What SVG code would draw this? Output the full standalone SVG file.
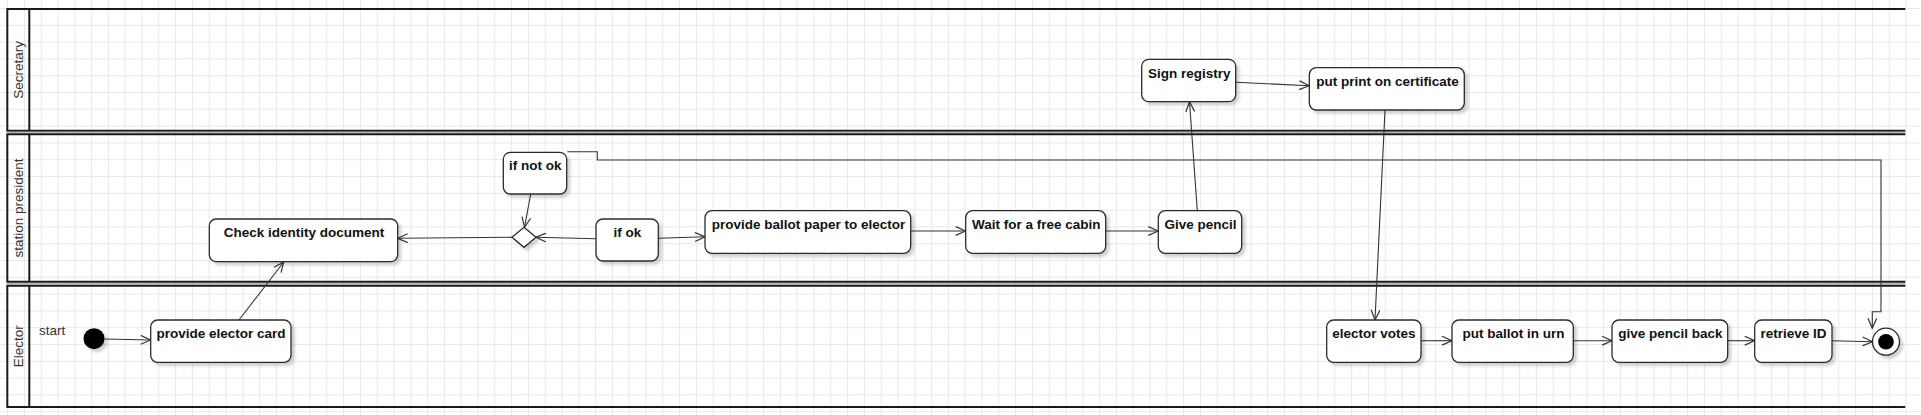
<svg xmlns="http://www.w3.org/2000/svg" width="1921" height="415" viewBox="0 0 1921 415">
  <defs>
    <pattern id="grid" x="-0.8" y="0.1" width="16.8" height="16.8" patternUnits="userSpaceOnUse">
      <path d="M0 8.4 H16.8 M8.4 0 V16.8" fill="none" stroke="#e8e8e8" stroke-width="1"/>
    </pattern>
    <filter id="shadow" x="-20%" y="-20%" width="140%" height="160%">
      <feDropShadow dx="3" dy="3" stdDeviation="1.6" flood-color="#000" flood-opacity="0.18"/>
    </filter>
    <marker id="open" viewBox="0 0 12 10" refX="11" refY="5" markerWidth="12" markerHeight="10" markerUnits="userSpaceOnUse" orient="auto">
      <path d="M1 0.6 L11 5 L1 9.4" fill="none" stroke="#333" stroke-width="1.2"/>
    </marker>
    <style>
      .lane { fill: none; stroke: #1a1a1a; stroke-width: 2; }
      .gap { fill: none; stroke: #b8b8b8; stroke-width: 1.6; }
      .lanelabel { font-family: "Liberation Sans", Arial, sans-serif; font-size: 13.5px; fill: #333; text-anchor: middle; }
      .node rect { fill: #fff; stroke: #2b2b2b; stroke-width: 1.3; filter: url(#shadow); }
      .node text { font-family: "Liberation Sans", Arial, sans-serif; font-size: 13.5px; font-weight: bold; fill: #111; text-anchor: middle; }
      .conn { fill: none; stroke: #333; stroke-width: 1.1; marker-end: url(#open); }
      .label { font-family: "Liberation Sans", Arial, sans-serif; font-size: 13.5px; font-weight: normal; fill: #333; text-anchor: start; }
    </style>
  </defs>

  <rect x="0" y="0" width="1921" height="415" fill="#fff"/>
  <rect x="0" y="0" width="1921" height="415" fill="url(#grid)"/>

  <g id="lanes">
    <g id="lane-secretary">
      <path class="lane" d="M1905.3 9 H7.3 V130.7 H1905.3 M29.3 9 V130.7"/>
      <text class="lanelabel" transform="translate(23 69.8) rotate(-90)">Secretary</text>
    </g>
    <path class="gap" d="M7.3 132.5 H1905.3"/>
    <g id="lane-president">
      <path class="lane" d="M1905.3 134.3 H7.3 V281.7 H1905.3 M29.3 134.3 V281.7"/>
      <text class="lanelabel" transform="translate(23 208) rotate(-90)">station president</text>
    </g>
    <path class="gap" d="M7.3 283.7 H1905.3"/>
    <g id="lane-elector">
      <path class="lane" d="M1905.3 285.7 H7.3 V407 H1905.3 M29.3 285.7 V407"/>
      <text class="lanelabel" transform="translate(23 346.3) rotate(-90)">Elector</text>
    </g>
  </g>

  <g id="connectors">
    <path class="conn" d="M104.5 339 L150.7 340"/>
    <path class="conn" d="M239 320 L283.7 262"/>
    <path class="conn" d="M512 237.3 L397.7 238.3"/>
    <path class="conn" d="M530.7 194 L524.5 227.3"/>
    <path class="conn" d="M596 238.7 L536 237.3"/>
    <path class="conn" d="M658.3 238.3 L705 236.7"/>
    <path class="conn" d="M910.7 231 L965.7 231"/>
    <path class="conn" d="M1105.7 231 L1158.3 231"/>
    <path class="conn" d="M1197.3 210.7 L1189.5 101.7"/>
    <path class="conn" d="M1235.7 82.3 L1309.3 85.7"/>
    <path class="conn" d="M1385 110 L1375 320"/>
    <path class="conn" d="M1421 340.7 L1452 340.7"/>
    <path class="conn" d="M1573.3 340.7 L1612 340.7"/>
    <path class="conn" d="M1727.7 340.7 L1754.7 340.7"/>
    <path class="conn" d="M1832 340.7 L1872.5 341.7"/>
    <path class="conn" d="M567.3 151.7 H597.3 V160 H1881 V311.7 H1872.3 V328.3" stroke="#555"/>
  </g>

  <g id="start">
    <text class="label" x="39" y="335">start</text>
    <circle cx="94" cy="338.7" r="10.5" fill="#000" filter="url(#shadow)"/>
  </g>

  <g id="provide-elector-card" class="node">
    <rect x="150.7" y="320" width="140.3" height="42.3" rx="7"/>
    <text x="221" y="338.3">provide elector card</text>
  </g>
  <g id="check-identity-document" class="node">
    <rect x="209.3" y="219" width="188.4" height="42.7" rx="7"/>
    <text x="304" y="236.8">Check identity document</text>
  </g>
  <g id="if-not-ok" class="node">
    <rect x="503.3" y="152.3" width="63.4" height="41.7" rx="7"/>
    <text x="535.3" y="170.3">if not ok</text>
  </g>
  <g id="decision" class="node">
    <path d="M512 237.3 L524 227.3 L536 237.3 L524 247.3 Z" fill="#fff" stroke="#2b2b2b" stroke-width="1.3" filter="url(#shadow)"/>
  </g>
  <g id="if-ok" class="node">
    <rect x="596" y="219" width="62.3" height="42" rx="7"/>
    <text x="627.5" y="236.8">if ok</text>
  </g>
  <g id="provide-ballot-paper" class="node">
    <rect x="705" y="210.7" width="205.7" height="42.6" rx="7"/>
    <text x="808.5" y="229">provide ballot paper to elector</text>
  </g>
  <g id="wait-free-cabin" class="node">
    <rect x="965.7" y="210.7" width="140" height="42.6" rx="7"/>
    <text x="1036.2" y="229">Wait for a free cabin</text>
  </g>
  <g id="give-pencil" class="node">
    <rect x="1158.3" y="210.7" width="83.4" height="42.6" rx="7"/>
    <text x="1200.5" y="229">Give pencil</text>
  </g>
  <g id="sign-registry" class="node">
    <rect x="1141.7" y="59.3" width="94" height="42.4" rx="7"/>
    <text x="1189.3" y="77.6">Sign registry</text>
  </g>
  <g id="put-print-on-certificate" class="node">
    <rect x="1309.3" y="67.7" width="155" height="42.3" rx="7"/>
    <text x="1387.5" y="86.2">put print on certificate</text>
  </g>
  <g id="elector-votes" class="node">
    <rect x="1326.7" y="320" width="94.3" height="42.3" rx="7"/>
    <text x="1374" y="338.3">elector votes</text>
  </g>
  <g id="put-ballot-in-urn" class="node">
    <rect x="1452" y="320" width="121.3" height="42.3" rx="7"/>
    <text x="1513.6" y="338.3">put ballot in urn</text>
  </g>
  <g id="give-pencil-back" class="node">
    <rect x="1612" y="320" width="115.7" height="42.3" rx="7"/>
    <text x="1670.3" y="338.3">give pencil back</text>
  </g>
  <g id="retrieve-id" class="node">
    <rect x="1754.7" y="320" width="77.3" height="42.3" rx="7"/>
    <text x="1793.5" y="338.3">retrieve ID</text>
  </g>
  <g id="end">
    <circle cx="1886" cy="341.7" r="13.5" fill="#fff" stroke="#2b2b2b" stroke-width="1.3" filter="url(#shadow)"/>
    <circle cx="1886" cy="341.7" r="7.8" fill="#000"/>
  </g>
</svg>
